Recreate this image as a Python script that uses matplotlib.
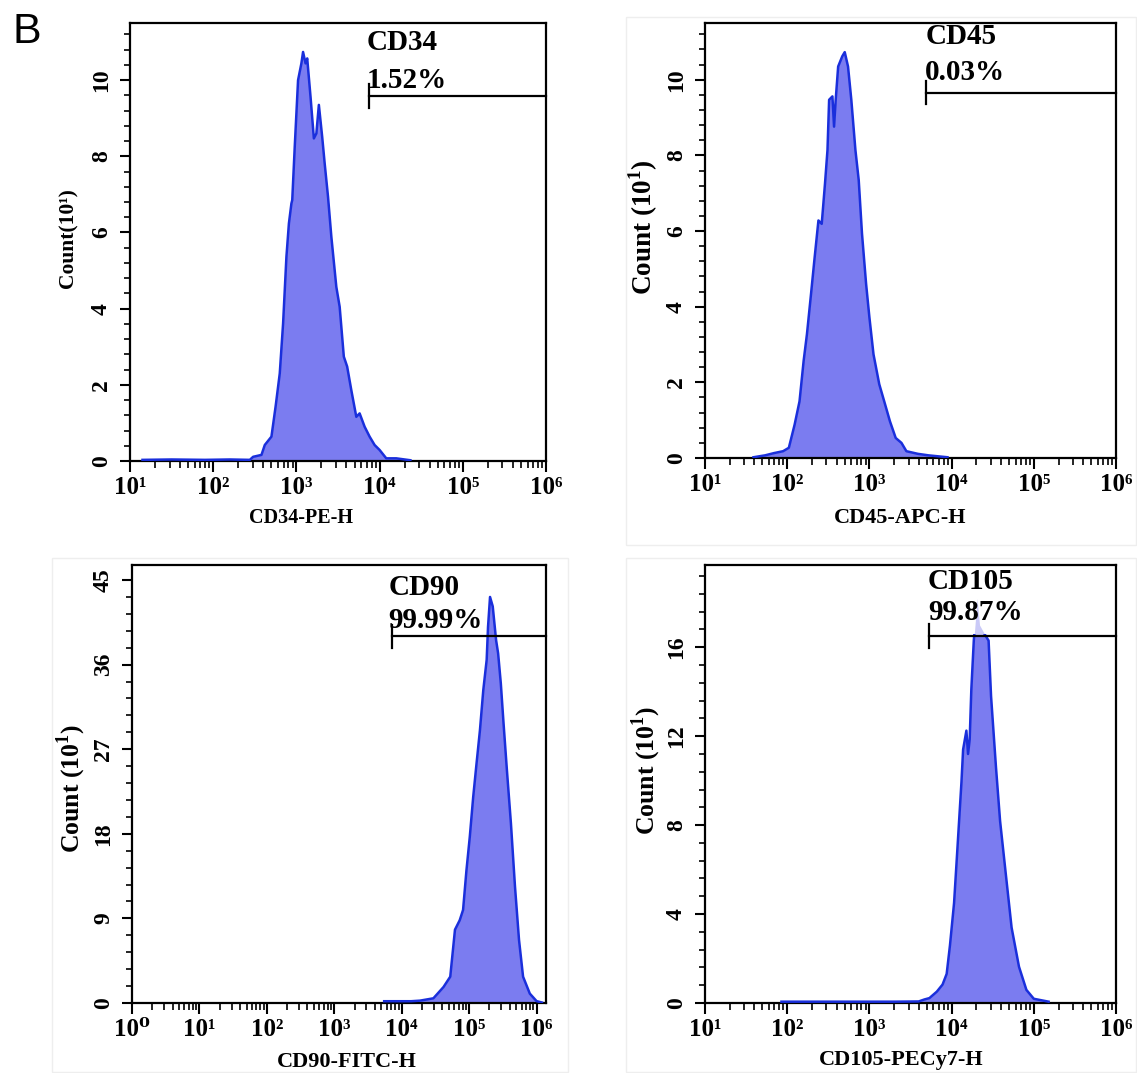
import matplotlib
matplotlib.use("Agg")
import matplotlib.pyplot as plt
import numpy as np
from matplotlib.patches import Rectangle
from matplotlib.ticker import AutoMinorLocator, LogLocator, NullFormatter

plt.rcParams["font.family"] = ["Liberation Serif", "DejaVu Serif"]
plt.rcParams["font.weight"] = "bold"
plt.rcParams["mathtext.fontset"] = "custom"
plt.rcParams["mathtext.rm"] = "Liberation Serif:bold"
plt.rcParams["mathtext.bf"] = "Liberation Serif:bold"

# histogram outlines: log10 fluorescence vs count (x10)
cd34_log = [1.15, 1.5, 1.9, 2.2, 2.44, 2.48, 2.58, 2.62, 2.70, 2.75, 2.80, 2.84, 2.88, 2.91,
            2.94, 2.95, 2.98, 3.02, 3.06, 3.08, 3.11, 3.13, 3.17, 3.21, 3.24, 3.27, 3.31, 3.34,
            3.38, 3.42, 3.48, 3.52, 3.57, 3.61, 3.66, 3.72, 3.76, 3.82, 3.88, 3.94, 4.00, 4.08,
            4.20, 4.37]
cd34_count = [0.03, 0.04, 0.03, 0.04, 0.03, 0.11, 0.16, 0.42, 0.64, 1.43, 2.30, 3.61, 5.36, 6.24,
              6.76, 6.85, 8.25, 10.0, 10.44, 10.74, 10.44, 10.57, 9.56, 8.47, 8.6, 9.35, 8.51, 7.81,
              6.94, 5.89, 4.57, 4.05, 2.74, 2.48, 1.86, 1.16, 1.25, 0.90, 0.64, 0.42, 0.29, 0.07,
              0.07, 0.02]

cd45_log = [1.59, 1.73, 1.84, 1.95, 2.02, 2.09, 2.15, 2.20, 2.24, 2.29, 2.33, 2.38, 2.42, 2.46,
            2.49, 2.51, 2.55, 2.57, 2.59, 2.62, 2.67, 2.70, 2.74, 2.78, 2.83, 2.87, 2.91, 2.96,
            3.00, 3.05, 3.12, 3.18, 3.25, 3.32, 3.39, 3.45, 3.59, 3.72, 3.95]
cd45_count = [0.02, 0.07, 0.13, 0.18, 0.27, 0.88, 1.50, 2.57, 3.27, 4.34, 5.22, 6.28, 6.19, 7.26,
              8.14, 9.47, 9.56, 8.76, 9.47, 10.35, 10.62, 10.73, 10.35, 9.47, 8.14, 7.35, 5.93, 4.60,
              3.72, 2.74, 1.95, 1.50, 0.97, 0.53, 0.40, 0.18, 0.11, 0.07, 0.02]

cd90_log = [3.74, 4.14, 4.27, 4.47, 4.62, 4.72, 4.79, 4.86, 4.91, 4.96, 5.01, 5.06, 5.11, 5.16,
            5.21, 5.26, 5.28, 5.31, 5.35, 5.40, 5.43, 5.47, 5.51, 5.56, 5.62, 5.68, 5.74, 5.80,
            5.90, 6.00, 6.08]
cd90_count = [0.19, 0.19, 0.25, 0.5, 1.7, 2.8, 7.8, 8.8, 9.9, 14.1, 17.7, 21.9, 25.5, 29.0,
              33.3, 36.5, 40.0, 43.2, 42.2, 38.6, 37.2, 34.0, 29.8, 24.8, 19.1, 12.4, 6.7, 2.8,
              1.0, 0.2, 0.05]

cd105_log = [1.93, 2.3, 2.8, 3.3, 3.6, 3.67, 3.73, 3.82, 3.89, 3.94, 3.98, 4.03, 4.07, 4.12, 4.14,
             4.18, 4.20, 4.22, 4.24, 4.27, 4.31, 4.34, 4.40, 4.45, 4.48, 4.54, 4.59, 4.66, 4.73,
             4.82, 4.91, 5.00, 5.18]
cd105_count = [0.06, 0.06, 0.06, 0.06, 0.07, 0.16, 0.22, 0.51, 0.83, 1.31, 2.59, 4.50, 6.90, 9.94,
               11.4, 12.25, 11.2, 11.85, 14.1, 16.3, 18.2, 17.0, 16.6, 16.3, 13.8, 10.6, 8.18, 5.78,
               3.39, 1.63, 0.59, 0.19, 0.06]

markers = ["CD34", "CD45", "CD90", "CD105"]
percents = ["1.52%", "0.03%", "99.99%", "99.87%"]
channels = ["CD34-PE-H", "CD45-APC-H", "CD90-FITC-H", "CD105-PECy7-H"]
ylabels = ["Count(10¹)", r"Count (10$^{\mathbf{1}}$)", r"Count (10$^{\mathbf{1}}$)",
           r"Count (10$^{\mathbf{1}}$)"]
y_ticks = [[0, 2, 4, 6, 8, 10], [0, 2, 4, 6, 8, 10], [0, 9, 18, 27, 36, 45], [0, 4, 8, 12, 16]]
x_decades = [[1, 2, 3, 4, 5, 6], [1, 2, 3, 4, 5, 6], [0, 1, 2, 3, 4, 5, 6], [1, 2, 3, 4, 5, 6]]
gate_log = [3.87, 3.69, 3.85, 3.73]
gate_y = [9.59, 9.66, 39.0, 16.5]

SUPER = str.maketrans("0123456789", "⁰¹²³⁴⁵⁶⁷⁸⁹")

FILL = "#7b7cf0"
EDGE = "#1a2fdc"

fig = plt.figure(figsize=(11.37, 10.73), dpi=100)
W, H = 1137.0, 1073.0

# faint screenshot frames round the pasted panels
for x0, y0, x1, y1 in [(626, 17, 1136, 545), (52, 558, 568, 1072), (626, 558, 1136, 1072)]:
    fig.patches.append(Rectangle((x0 / W, 1 - y1 / H), (x1 - x0) / W, (y1 - y0) / H,
                                 transform=fig.transFigure, fill=False, edgecolor="#eeeeee",
                                 linewidth=1.0))

# axes boxes in pixels: left, top, right, bottom
boxes = [(130, 23, 546, 461), (705, 23, 1116, 458), (132, 565, 546, 1003), (705, 565, 1116, 1003)]
ylims = [11.5, 11.5, 46.6, 19.7]
xlims = [(1, 6), (1, 6), (0, 6.14), (1, 6)]
data = [(cd34_log, cd34_count), (cd45_log, cd45_count), (cd90_log, cd90_count),
        (cd105_log, cd105_count)]
marker_pos = [(3.84, 11.0, 10.0), (3.68, 11.15, 10.18), (3.80, 44.2, 40.7), (3.71, 18.96, 17.57)]
ylabel_sizes = [15.5, 19.5, 18.5, 18.5]
xlabel_sizes = [14.5, 16, 16, 16]
ylabel_xy = [(-0.149, 0.51), (-0.151, 0.53), (-0.147, 0.49), (-0.143, 0.53)]
xlabel_xy = [(0.41, -0.13), (0.475, -0.138), (0.52, -0.135), (0.477, -0.13)]

for i, (l, t, r, b) in enumerate(boxes):
    ax = fig.add_axes([l / W, 1 - b / H, (r - l) / W, (b - t) / H])
    ax.set_xscale("log")
    lo, hi = xlims[i]
    ax.set_xlim(10 ** lo, 10 ** hi)
    ax.set_ylim(0, ylims[i])

    xs = 10 ** np.array(data[i][0])
    ys = np.array(data[i][1])
    if i == 3:
        # top of the CD105 peak is pale above the gate bar
        clip_low = Rectangle((1, 0), 1e7, gate_y[i] + 0.1, transform=ax.transData)
        clip_high = Rectangle((1, gate_y[i] + 0.1), 1e7, 10, transform=ax.transData)
        f1 = ax.fill_between(xs, 0, ys, color=FILL, linewidth=0, zorder=2)
        f1.set_clip_path(clip_low)
        ln, = ax.plot(xs, ys, color=EDGE, linewidth=1.8, zorder=3)
        ln.set_clip_path(clip_low)
        f2 = ax.fill_between(xs, 0, ys, color="#c9c9f7", linewidth=0, zorder=2)
        f2.set_clip_path(clip_high)
    else:
        ax.fill_between(xs, 0, ys, color=FILL, linewidth=0, zorder=2)
        ax.plot(xs, ys, color=EDGE, linewidth=1.8, zorder=3)

    # gate bar
    gx = 10 ** gate_log[i]
    gy = gate_y[i]
    d = ylims[i] * 0.027
    ax.plot([gx, 10 ** hi], [gy, gy], color="black", linewidth=1.6, zorder=4, clip_on=False)
    ax.plot([gx, gx], [gy - d, gy + d], color="black", linewidth=1.6, zorder=4)

    mx, my1, my2 = marker_pos[i]
    ax.text(10 ** mx, my1, markers[i], fontsize=21, fontweight="bold", va="center", ha="left")
    ax.text(10 ** mx, my2, percents[i], fontsize=21, fontweight="bold", va="center", ha="left")

    ax.set_xticks([10.0 ** k for k in x_decades[i]],
                  ["10" + str(k).translate(SUPER) for k in x_decades[i]])
    ax.xaxis.set_minor_locator(LogLocator(base=10, subs=np.arange(2, 10), numticks=20))
    ax.xaxis.set_minor_formatter(NullFormatter())
    ax.set_yticks(y_ticks[i])
    ax.yaxis.set_minor_locator(AutoMinorLocator(5))
    ax.tick_params(axis="x", which="major", length=8, width=1.5, labelsize=18, pad=3)
    ax.tick_params(axis="x", which="minor", length=5, width=1.2)
    ax.tick_params(axis="y", which="major", length=7, width=1.5, labelsize=17, pad=6,
                   labelrotation=90)
    ax.tick_params(axis="y", which="minor", length=4, width=1.2)
    for lab in ax.get_yticklabels():
        lab.set_va("center")
    for s in ax.spines.values():
        s.set_linewidth(1.6)

    ax.set_ylabel(ylabels[i], fontsize=ylabel_sizes[i], fontweight="bold", va="center")
    ax.yaxis.set_label_coords(*ylabel_xy[i])
    ax.set_xlabel(channels[i], fontsize=xlabel_sizes[i], fontweight="bold", va="center")
    ax.xaxis.set_label_coords(*xlabel_xy[i])

fig.text(13 / W, 1 - 12 / H, "B", fontsize=31, family=["Liberation Sans", "DejaVu Sans"],
         fontweight="normal", va="top", ha="left")

fig.savefig("out.png", dpi=100, facecolor="white")
